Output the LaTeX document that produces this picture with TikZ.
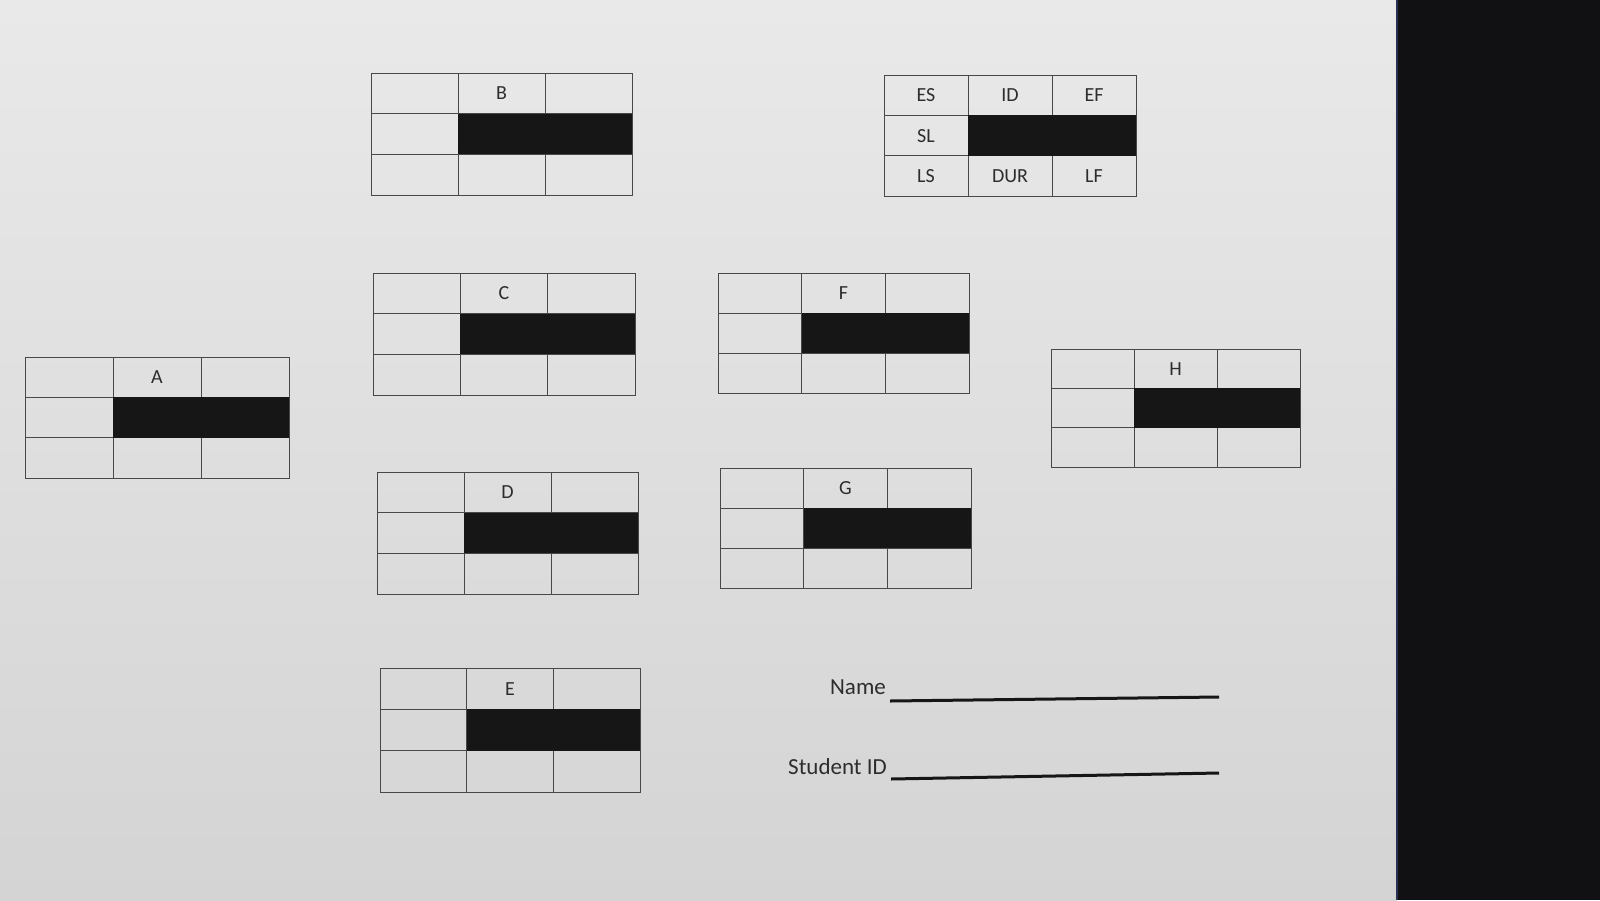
\documentclass[tikz,border=0pt]{standalone}
\usepackage{fontspec}
\setmainfont{Carlito}
\usetikzlibrary{calc}
\definecolor{inkline}{RGB}{72,72,72}
\definecolor{barblack}{RGB}{22,22,22}
\definecolor{inktext}{RGB}{45,45,45}
\definecolor{pagetop}{RGB}{233,233,233}
\definecolor{pagebot}{RGB}{212,212,212}
\definecolor{screenedge}{RGB}{17,17,19}
\tikzset{
  gridline/.style={draw=inkline, line width=1pt},
  barfill/.style={fill=barblack},
  celltext/.style={font=\fontsize{20}{24}\selectfont, text=inktext, inner sep=0pt},
  formtext/.style={font=\fontsize{23}{27}\selectfont, text=inktext, inner sep=0pt},
  formline/.style={draw=barblack, line width=3pt}
}
% name, x0, y0, x1, y1, label
\newcommand\cpmtab[6]{%
  \coordinate (#1-nw) at (#2,#3);
  \coordinate (#1-se) at (#4,#5);
  \coordinate (#1-p1) at ($(#1-nw)!1/3!(#1-se)$);
  \coordinate (#1-p2) at ($(#1-nw)!2/3!(#1-se)$);
  \draw[gridline] (#1-nw) rectangle (#1-se);
  \draw[gridline] (#1-p1 |- #1-nw) -- (#1-p1 |- #1-se);
  \draw[gridline] (#1-p2 |- #1-nw) -- (#1-p2 |- #1-se);
  \draw[gridline] (#1-nw |- #1-p1) -- (#1-se |- #1-p1);
  \draw[gridline] (#1-nw |- #1-p2) -- (#1-se |- #1-p2);
  \fill[barfill] (#1-p1) rectangle (#1-se |- #1-p2);
  \node[celltext] (#1-label) at ($(#1-p1 |- #1-nw)!0.5!(#1-p2 |- #1-p1)$) {#6};
}
\begin{document}
\begin{tikzpicture}[x=1pt,y=-1pt]
\useasboundingbox (0,0) rectangle (1600,900);
\shade[top color=pagetop, bottom color=pagebot] (0,0) rectangle (1397,900);
\fill[screenedge] (1397,0) rectangle (1600,900);
\draw[draw={rgb,255:red,40;green,50;blue,80}, line width=1.5pt] (1397,0) -- (1397,900);

\cpmtab{A}{25}{357}{289}{478}{A}
\cpmtab{B}{371}{73}{632}{195}{B}
\cpmtab{C}{373}{273}{635}{395}{C}
\cpmtab{D}{377}{472}{638}{594}{D}
\cpmtab{E}{380}{668}{640}{792}{E}
\cpmtab{F}{718}{273}{969}{393}{F}
\cpmtab{G}{720}{468}{971}{588}{G}
\cpmtab{H}{1051}{349}{1300}{467}{H}

% legend table
\cpmtab{K}{884}{75}{1136}{196}{ID}
\node[celltext] (K-es) at (926,95) {ES};
\node[celltext] (K-ef) at (1094,95) {EF};
\node[celltext] (K-sl) at (926,136) {SL};
\node[celltext] (K-ls) at (926,176) {LS};
\node[celltext] (K-dur) at (1010,176) {DUR};
\node[celltext] (K-lf) at (1094,176) {LF};

% form fields
\node[formtext, anchor=base east] (nametxt) at (886,694) {Name};
\coordinate (nameL) at (890,701);
\coordinate (nameR) at (1219,697);
\draw[formline] (nameL) -- (nameR);
\node[formtext, anchor=base east] (idtxt) at (887,774) {Student ID};
\coordinate (idL) at (891,779);
\coordinate (idR) at (1219,773);
\draw[formline] (idL) -- (idR);
\end{tikzpicture}
\end{document}
